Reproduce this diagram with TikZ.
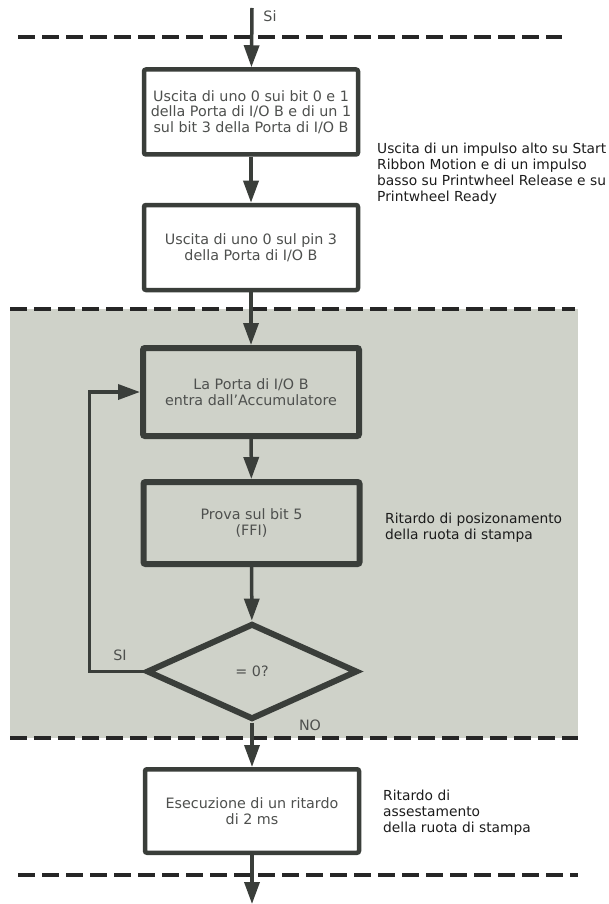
\documentclass[tikz,border=0pt]{standalone}
\usepackage{fontspec}
\setmainfont{DejaVu Sans}
\usetikzlibrary{arrows.meta,shapes.geometric}
\definecolor{ink}{RGB}{58,62,58}
\definecolor{panel}{RGB}{207,210,201}
\definecolor{boxtext}{RGB}{78,80,78}
\definecolor{notetext}{RGB}{28,28,28}

\begin{document}
\begin{tikzpicture}[x=1pt, y=-1pt,
        every node/.style = {font=\fontsize{14.3}{15.5}\selectfont, align=center},
        stepbox/.style = {shape=rectangle, draw=ink, line width=4.5pt,
            rounded corners=2pt, fill=white, text=boxtext,
            minimum width=214pt, minimum height=85pt},
        loopbox/.style = {stepbox, fill=none, line width=6pt,
            minimum width=216pt},
        test/.style = {shape=diamond, draw=ink, line width=6pt, text=boxtext,
            minimum width=211pt, minimum height=96pt, inner sep=0pt},
        note/.style = {anchor=west, align=left, inner sep=0pt, text=notetext,
            font=\fontsize{13.8}{16}\selectfont},
        tag/.style = {inner sep=0pt, text=boxtext},
        flow/.style = {draw=ink, line width=3.5pt,
            -{Triangle[length=22pt,width=15pt]}},
        sep/.style = {draw=black!85, line width=3.5pt,
            dash pattern=on 17pt off 7pt}]
    \useasboundingbox (0,0) rectangle (609,904);
    \fill[panel] (10,309) rectangle (578,738);
    \draw[sep] (18,37) -- (562,37);
    \draw[sep] (10,309) -- (575,309);
    \draw[sep] (10,738) -- (578,738);
    \draw[sep] (18,875) -- (578,875);

    \coordinate (start) at (252,8);
    \coordinate (end) at (252,904);
    \node[stepbox] (uscita) at (251,112)
        {Uscita di uno 0 sui bit 0 e 1\\della Porta di I/O B e di un 1\\sul bit 3 della Porta di I/O B};
    \node[stepbox] (pin) at (251,247.5)
        {Uscita di uno 0 sul pin 3\\della Porta di I/O B};
    \node[loopbox, minimum height=88pt] (porta) at (251,392)
        {La Porta di I/O B\\entra dall'Accumulatore};
    \node[loopbox, minimum height=82pt] (prova) at (251.5,523)
        {Prova sul bit 5\\(FFI)};
    \node[test] (zero) at (252,671.5) {= 0?};
    \node[stepbox, minimum height=83.5pt] (ritardo) at (252,811)
        {Esecuzione di un ritardo\\di 2 ms};

    \node[note] (impulso) at (377,174) {Uscita di un impulso alto su Start\\Ribbon Motion e di un impulso\\basso su Printwheel Release e su\\Printwheel Ready};
    \node[note] (posizione) at (385,527.5) {Ritardo di posizonamento\\della ruota di stampa};
    \node[note] (assesto) at (383,813) {Ritardo di\\assestamento\\della ruota di stampa};

    \node[tag] (si) at (270,16) {Si};
    \node[tag] (siloop) at (120,655) {SI};
    \node[tag] (no) at (310,725) {NO};

    \draw[flow] (start) -- (uscita);
    \draw[flow] (uscita) -- (pin);
    \draw[flow] (pin) -- (porta);
    \draw[flow] (porta) -- (prova);
    \draw[flow] (prova) -- (zero);
    \draw[flow] (zero.west) -- ++(-54,0) |- (porta.west);
    \draw[flow] (zero) -- (ritardo);
    \draw[flow] (ritardo) -- (end);
\end{tikzpicture}
\end{document}
